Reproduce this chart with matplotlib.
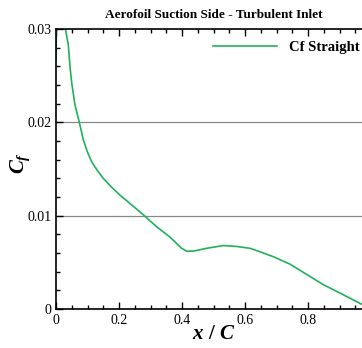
import numpy as np
import matplotlib
matplotlib.use("Agg")
import matplotlib.pyplot as plt
from matplotlib.ticker import MultipleLocator

plt.rcParams['font.family'] = ['Liberation Serif', 'DejaVu Serif']
plt.rcParams['mathtext.fontset'] = 'custom'
plt.rcParams['mathtext.it'] = 'Liberation Serif:italic:bold'
plt.rcParams['mathtext.rm'] = 'Liberation Serif:bold'

# Cf along the suction side
x_c = [0.0, 0.004, 0.015, 0.030, 0.039, 0.045, 0.050, 0.060, 0.074, 0.087, 0.100,
       0.113, 0.130, 0.150, 0.175, 0.203, 0.235, 0.277, 0.320, 0.362, 0.399,
       0.415, 0.436, 0.478, 0.531, 0.574, 0.616, 0.650, 0.690, 0.743, 0.796,
       0.849, 0.902, 0.971, 1.0]
cf = [0.0268, 0.036, 0.034, 0.0300, 0.0283, 0.0258, 0.0242, 0.0219, 0.0200, 0.0181, 0.0168,
      0.0158, 0.0149, 0.0140, 0.0131, 0.0122, 0.0113, 0.0101, 0.0088, 0.0077, 0.0065,
      0.0062, 0.0062, 0.0065, 0.0068, 0.0067, 0.0065, 0.0061, 0.0056, 0.0048, 0.0037,
      0.0026, 0.0017, 0.0005, 0.0001]

xticks = [0, 0.2, 0.4, 0.6, 0.8]
xticklabels = ['0', '0.2', '0.4', '0.6', '0.8']
yticks = [0, 0.01, 0.02, 0.03]
yticklabels = ['0', '0.01', '0.02', '0.03']

fig = plt.figure(figsize=(3.62, 3.48), dpi=100)
ax = fig.add_axes([56 / 362, 39 / 348, 315 / 362, 280 / 348])

ax.plot(x_c, cf, color='#1fb25a', lw=1.2, label='Cf Straight')

for g in [0.01, 0.02]:
    ax.axhline(g, color='#888888', lw=0.9, zorder=0)

ax.set_xlim(0, 1)
ax.set_ylim(0, 0.03)
ax.set_xticks(xticks)
ax.set_xticklabels(xticklabels)
ax.set_yticks(yticks)
ax.set_yticklabels(yticklabels)
ax.xaxis.set_minor_locator(MultipleLocator(0.05))
ax.yaxis.set_minor_locator(MultipleLocator(0.002))
ax.tick_params(which='both', direction='in', top=True, right=True, labelsize=10, width=1)
ax.tick_params(which='major', length=5)
ax.tick_params(which='minor', length=3)
for s in ax.spines.values():
    s.set_linewidth(1.2)

ax.set_title('Aerofoil Suction Side - Turbulent Inlet', fontsize=9.5, fontweight='bold', pad=8)
ax.set_xlabel(r'$x\ /\ C$', fontsize=15, labelpad=-1)
ax.set_ylabel(r'$C_f$', fontsize=15)
ax.yaxis.set_label_coords(-0.075, 0.52)

leg = ax.legend(loc='upper right', frameon=False, prop={'weight': 'bold', 'size': 10.5},
                handlelength=4.4, bbox_to_anchor=(1.0, 1.0), borderaxespad=0.4)

fig.savefig('out.png', dpi=100)
